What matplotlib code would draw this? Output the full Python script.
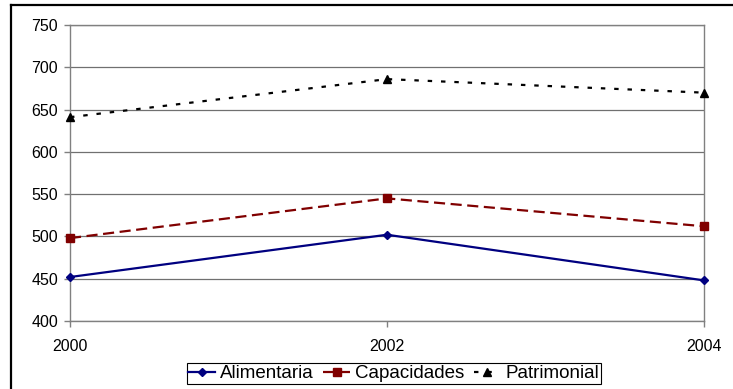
import matplotlib.pyplot as plt
from matplotlib.lines import Line2D

plt.rcParams["font.family"] = ["Liberation Sans", "DejaVu Sans"]

# Series values per year
years = [2000, 2002, 2004]
alimentaria = [452, 502, 448]
capacidades = [498, 545, 512]
patrimonial = [641, 686, 670]
y_ticks = [400, 450, 500, 550, 600, 650, 700, 750]

fig = plt.figure(figsize=(7.33, 3.89), dpi=100)
ax = fig.add_axes([70 / 733, 1 - 321 / 389, 634 / 733, 296 / 389])

ax.plot(years, alimentaria, color="#000080", lw=1.6, marker="D", ms=4,
        label="Alimentaria", clip_on=False, zorder=3)
ax.plot(years, capacidades, color="#800000", lw=1.6, marker="s", ms=5.5,
        dashes=(5, 2.5), label="Capacidades", clip_on=False, zorder=3)
ax.plot(years, patrimonial, color="black", lw=1.6, marker="^", ms=5.5,
        dashes=(2.0, 4.0), label="Patrimonial", clip_on=False, zorder=3)

ax.set_xlim(2000, 2004)
ax.set_ylim(400, 750)
ax.set_xticks(years)
ax.set_yticks(y_ticks)
ax.tick_params(axis="both", labelsize=11.5, color="#808080", length=4, width=1)
ax.tick_params(axis="x", pad=9)
ax.tick_params(axis="y", pad=4.5)
ax.grid(axis="y", color="#707070", lw=0.9)
ax.set_axisbelow(True)
for side in ax.spines.values():
    side.set_color("#808080")
    side.set_linewidth(1)

leg = ax.legend(loc="lower center", bbox_to_anchor=(394 / 733, 0.0),
                bbox_transform=fig.transFigure, ncol=3, fontsize=13.5,
                frameon=True, fancybox=False, shadow=False, framealpha=1,
                edgecolor="black", handlelength=1.4, handletextpad=0.3,
                columnspacing=0.5, borderpad=0.1, borderaxespad=0.25)
leg.get_frame().set_linewidth(0.8)

# Outer chart frame along the left and top edges
fig.add_artist(Line2D([11 / 733, 11 / 733], [0, 1 - 5 / 389], color="black",
                      lw=1.6, transform=fig.transFigure))
fig.add_artist(Line2D([11 / 733, 1], [1 - 5 / 389, 1 - 5 / 389], color="black",
                      lw=1.6, transform=fig.transFigure))

fig.savefig("out.png", dpi=100)
